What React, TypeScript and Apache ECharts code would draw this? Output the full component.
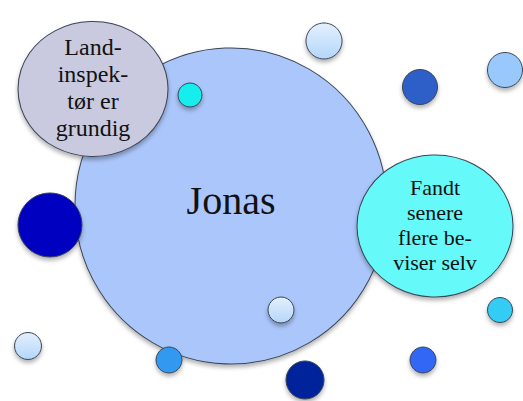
import React, { useEffect, useRef } from "react";
import * as echarts from "echarts";

// Bubble data (axis units: x from left, y from top, width, height)
const labels: string[] = [
  "Jonas",
  "Land-\ninspek-\ntør er\ngrundig",
  "Fandt\nsenere\nflere be-\nviser selv",
  "", "", "", "", "", "", "", "", "", "", "",
];
const xs: number[] = [231, 93, 435, 190, 324, 420, 505, 50, 28, 169, 281, 305, 423, 500];
const ys: number[] = [206, 89, 226, 95, 41, 87, 70, 225, 346, 360, 310, 380, 360, 310];
const widths: number[] = [312, 150, 156, 24, 36, 35, 35, 64, 27, 26, 26, 38, 26, 25];
const heights: number[] = [316, 135, 142, 24, 36, 35, 35, 64, 27, 26, 26, 38, 26, 25];
const fillColors: string[] = [
  "#abc6fb", "#c9c9df", "#66f9f9", "#14eeee", "light", "#2e5ec8", "#99c8fc",
  "#0000c0", "light", "#3399f0", "light", "#00229a", "#3366f5", "#33ccf5",
];
const fontSizes: number[] = [40, 24, 22, 0, 0, 0, 0, 0, 0, 0, 0, 0, 0, 0];
const lineHeights: number[] = [44, 27, 25, 0, 0, 0, 0, 0, 0, 0, 0, 0, 0, 0];
const labelShiftY: number[] = [-6, -2, -1, 0, 0, 0, 0, 0, 0, 0, 0, 0, 0, 0];

const SERIF = "Liberation Serif";

export default function App() {
  const ref = useRef<HTMLDivElement>(null);
  useEffect(() => {
    if (!ref.current) return;
    const chart = echarts.init(ref.current, null, { renderer: "svg" });
    const lightGrad = new echarts.graphic.LinearGradient(0, 0, 0, 1, [
      { offset: 0, color: "#e3f0fd" },
      { offset: 1, color: "#b4d6fa" },
    ]);
    const data = xs.map((x, i) => ({
      name: labels[i],
      value: [x, ys[i], widths[i], heights[i]],
      symbolSize: [widths[i], heights[i]],
      itemStyle: {
        color: fillColors[i] === "light" ? lightGrad : fillColors[i],
      },
      label: {
        show: labels[i] !== "",
        formatter: labels[i],
        position: "inside",
        offset: [0, labelShiftY[i]],
        color: "#111",
        fontFamily: SERIF,
        fontSize: fontSizes[i] || 12,
        lineHeight: lineHeights[i] || 14,
        align: "center",
        verticalAlign: "middle",
      },
    }));
    chart.setOption({
      animation: false,
      grid: { left: 0, right: 0, top: 0, bottom: 0 },
      xAxis: { type: "value", min: 0, max: 523, show: false },
      yAxis: { type: "value", min: 0, max: 401, inverse: true, show: false },
      series: [
        {
          type: "scatter",
          symbol: "circle",
          data,
          itemStyle: {
            borderColor: "#3b4656",
            borderWidth: 1,
            shadowBlur: 4,
            shadowOffsetY: 3,
            shadowColor: "rgba(0,0,0,0.3)",
            opacity: 1,
          },
          emphasis: { disabled: true },
        },
      ],
    });
    return () => chart.dispose();
  }, []);
  return (
    <div
      ref={ref}
      style={{ position: "fixed", left: 0, top: 0, width: 523, height: 401, background: "#fff" }}
    />
  );
}
